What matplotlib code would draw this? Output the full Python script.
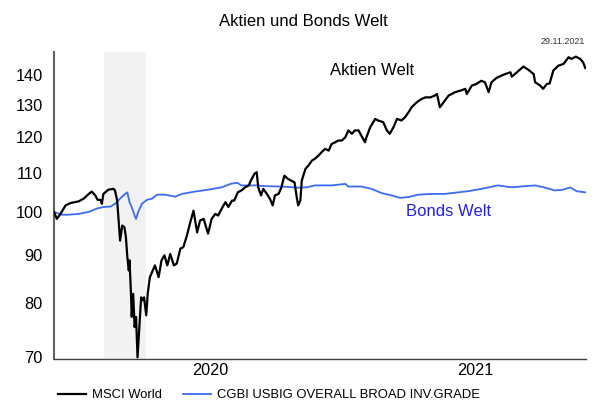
import numpy as np
import pandas as pd
import matplotlib
matplotlib.use('Agg')
import matplotlib.pyplot as plt
import matplotlib.dates as mdates
from matplotlib.ticker import FixedLocator, FixedFormatter, NullLocator

plt.rcParams['font.family'] = ['Liberation Sans', 'DejaVu Sans']

# MSCI World, indexed to 100
msci_dates = ['2019-11-29','2019-12-03','2019-12-08','2019-12-15','2019-12-22','2020-01-02','2020-01-09',
 '2020-01-16','2020-01-20','2020-01-25','2020-01-28','2020-02-01','2020-02-03','2020-02-05','2020-02-12',
 '2020-02-19','2020-02-21','2020-02-24','2020-02-26','2020-02-28','2020-03-02','2020-03-05','2020-03-07',
 '2020-03-09','2020-03-11','2020-03-12','2020-03-14','2020-03-15','2020-03-17','2020-03-19','2020-03-21',
 '2020-03-23','2020-03-25','2020-03-28','2020-03-30','2020-04-01','2020-04-04','2020-04-06','2020-04-09',
 '2020-04-13','2020-04-16','2020-04-21','2020-04-25','2020-04-29','2020-05-03','2020-05-07','2020-05-12',
 '2020-05-16','2020-05-21','2020-05-25','2020-05-30','2020-06-03','2020-06-08','2020-06-13','2020-06-17',
 '2020-06-22','2020-06-28','2020-07-03','2020-07-08','2020-07-12','2020-07-18','2020-07-22','2020-07-26',
 '2020-07-31','2020-08-03','2020-08-08','2020-08-13','2020-08-18','2020-08-23','2020-08-26','2020-08-31',
 '2020-09-03','2020-09-05','2020-09-09','2020-09-12','2020-09-17','2020-09-21','2020-09-25','2020-09-28',
 '2020-10-03','2020-10-07','2020-10-11','2020-10-16','2020-10-20','2020-10-25','2020-10-28','2020-10-30',
 '2020-11-02','2020-11-04','2020-11-09','2020-11-13','2020-11-18','2020-11-22','2020-11-27','2020-12-01',
 '2020-12-06','2020-12-11','2020-12-15','2020-12-20','2020-12-24','2020-12-29','2021-01-03','2021-01-07',
 '2021-01-12','2021-01-16','2021-01-21','2021-01-30','2021-02-01','2021-02-06','2021-02-13','2021-02-17',
 '2021-02-24','2021-03-01','2021-03-05','2021-03-10','2021-03-15','2021-03-21','2021-03-26','2021-03-31',
 '2021-04-04','2021-04-11','2021-04-18','2021-04-23','2021-04-30','2021-05-06','2021-05-09','2021-05-13',
 '2021-05-18','2021-05-25','2021-06-03','2021-06-10','2021-06-17','2021-06-19','2021-06-26','2021-07-02',
 '2021-07-09','2021-07-14','2021-07-19','2021-07-23','2021-07-30','2021-08-06','2021-08-11','2021-08-18',
 '2021-08-20','2021-08-27','2021-09-05','2021-09-12','2021-09-19','2021-09-21','2021-09-28','2021-10-02',
 '2021-10-07','2021-10-11','2021-10-16','2021-10-23','2021-10-30','2021-11-06','2021-11-10','2021-11-16',
 '2021-11-22','2021-11-26','2021-11-29']
msci_vals = [100.0,98.3,99.5,101.6,102.2,102.6,103.3,
 104.5,105.1,104.1,103.0,103.0,102.0,104.5,105.6,
 105.8,105.4,102.8,97.9,93.2,96.7,96.3,94.0,
 89.5,86.6,88.8,81.8,77.3,81.8,75.4,77.3,
 70.0,74.2,81.1,80.5,81.1,77.6,81.8,85.2,
 86.6,87.7,85.2,88.8,89.9,87.7,90.2,87.7,
 88.1,91.4,91.7,94.4,97.1,100.3,95.1,97.9,
 98.3,94.8,98.3,99.5,99.1,101.2,102.4,101.2,
 102.8,102.8,104.9,105.4,106.2,106.7,108.0,109.8,
 110.2,106.2,104.1,105.8,104.5,103.3,101.6,104.1,
 104.5,106.2,109.3,108.4,108.0,107.5,103.7,101.6,
 102.8,108.0,111.1,112.0,113.4,113.9,114.8,115.7,
 116.7,116.2,118.1,118.6,119.1,119.1,120.1,122.1,
 121.1,122.1,122.1,118.6,120.1,123.0,125.6,125.1,
 124.6,122.1,121.1,123.0,125.6,125.1,126.1,127.7,
 129.2,130.8,131.9,132.4,132.4,133.0,133.5,129.2,
 130.8,133.0,134.1,134.6,135.2,133.5,136.3,136.8,
 137.9,137.4,134.1,137.4,138.9,139.7,140.2,140.8,
 139.3,140.8,142.8,141.6,140.2,137.4,136.3,135.2,
 136.8,137.0,141.4,143.1,143.7,146.1,145.5,146.3,
 145.5,144.3,142.3]

# CGBI USBIG Overall Broad Inv. Grade, indexed to 100
bond_dates = ['2019-11-29','2019-12-10','2019-12-19','2020-01-02','2020-01-16','2020-01-27','2020-02-05',
 '2020-02-15','2020-02-21','2020-02-28','2020-03-06','2020-03-09','2020-03-12','2020-03-15','2020-03-19',
 '2020-03-21','2020-03-24','2020-03-29','2020-04-05','2020-04-12','2020-04-19','2020-04-30','2020-05-14',
 '2020-05-23','2020-06-10','2020-06-29','2020-07-17','2020-07-29','2020-08-07','2020-08-13','2020-08-23',
 '2020-09-01','2020-09-15','2020-10-07','2020-10-30','2020-11-11','2020-11-22','2020-12-15','2021-01-03',
 '2021-01-07','2021-01-25','2021-02-08','2021-02-22','2021-03-08','2021-03-19','2021-03-31','2021-04-13',
 '2021-05-02','2021-05-20','2021-06-07','2021-06-21','2021-07-09','2021-08-01','2021-08-20','2021-09-07',
 '2021-09-21','2021-10-05','2021-10-18','2021-10-30','2021-11-08','2021-11-17','2021-11-29']
bond_vals = [100.0,99.3,99.3,99.5,100.0,100.8,101.2,
 101.3,102.0,103.3,104.5,104.9,102.4,101.2,99.1,
 98.3,100.0,102.0,103.0,103.3,104.3,104.3,103.8,
 104.5,105.1,105.6,106.2,107.1,107.4,106.7,106.7,
 106.7,106.5,106.4,106.1,106.2,106.7,106.7,107.1,
 106.4,106.4,105.8,104.7,104.1,103.5,103.7,104.3,
 104.5,104.5,104.9,105.2,105.8,106.7,106.2,106.5,
 106.7,106.1,105.4,105.6,106.2,105.2,104.9]

shade_start, shade_end = '2020-02-06', '2020-04-04'
yticks = [70, 80, 90, 100, 110, 120, 130, 140]

fig = plt.figure(figsize=(6.06, 4.09), dpi=100)
ax = fig.add_axes([0.089, 0.122, 0.878, 0.751])

ax.axvspan(pd.Timestamp(shade_start), pd.Timestamp(shade_end), color='#f2f2f2', lw=0, zorder=0)
ax.plot(pd.to_datetime(msci_dates), msci_vals, color='black', lw=1.6, label='MSCI World', zorder=3)
ax.plot(pd.to_datetime(bond_dates), bond_vals, color='#3b6cf5', lw=1.3,
        label='CGBI USBIG OVERALL BROAD INV.GRADE', zorder=2)

ax.set_yscale('log')
ax.set_ylim(69.7, 148)
ax.yaxis.set_major_locator(FixedLocator(yticks))
ax.yaxis.set_major_formatter(FixedFormatter([str(t) for t in yticks]))
ax.yaxis.set_minor_locator(NullLocator())
ax.tick_params(axis='y', length=0, pad=8, labelsize=11.8)

ax.set_xlim(pd.Timestamp('2019-11-29'), pd.Timestamp('2021-11-30'))
ax.xaxis.set_major_locator(mdates.YearLocator())
ax.xaxis.set_major_formatter(plt.NullFormatter())
ax.xaxis.set_minor_locator(mdates.MonthLocator(bymonth=7))
ax.xaxis.set_minor_formatter(mdates.DateFormatter('%Y'))
ax.tick_params(axis='x', which='both', length=0, pad=3, labelsize=11.7)

for s in ['top', 'right']:
    ax.spines[s].set_visible(False)
ax.spines['left'].set_color('#606060')
ax.spines['left'].set_linewidth(1.5)
ax.spines['bottom'].set_color('#404040')
ax.spines['bottom'].set_linewidth(1.0)

ax.text(0.598, 0.941, 'Aktien Welt', transform=ax.transAxes, fontsize=12, ha='center', va='center')
ax.text(0.741, 0.479, 'Bonds Welt', transform=ax.transAxes, fontsize=12, ha='center', va='center',
        color='#2020f0')

fig.text(0.5, 0.948, 'Aktien und Bonds Welt', ha='center', va='center', fontsize=12)
fig.text(0.966, 0.899, '29.11.2021', ha='right', va='center', fontsize=6.5, color='#333333')

fig.legend(loc='center left', bbox_to_anchor=(0.077, 0.034), ncol=2, frameon=False, fontsize=9.4,
           handlelength=2.15, handletextpad=0.46, columnspacing=1.6)

fig.savefig('out.png', dpi=100)
